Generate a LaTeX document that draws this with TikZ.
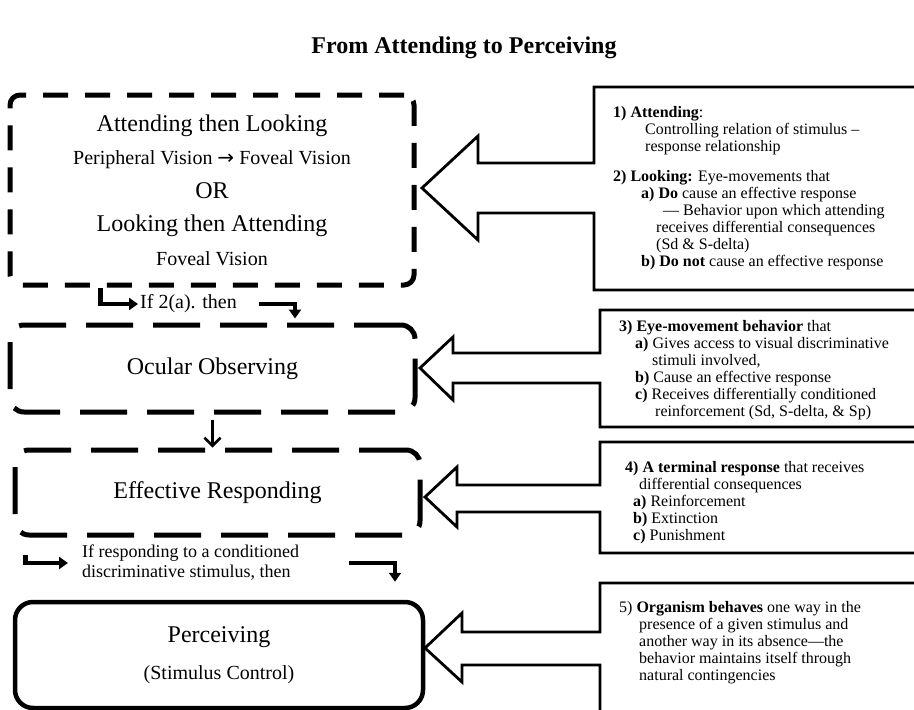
\documentclass[tikz,border=0pt]{standalone}
\usepackage{fontspec}
\setmainfont{Liberation Serif}
\newfontfamily\arrowfont{DejaVu Sans}
\usetikzlibrary{arrows.meta}
\newcommand{\bigline}{\fontsize{24}{33.5}\selectfont}
\newcommand{\smallline}{\fontsize{20}{33.5}\selectfont}
\newcommand{\notefont}{\fontsize{16}{17}\selectfont}

\begin{document}
\begin{tikzpicture}[x=1pt, y=-1pt, >={Triangle[length=9pt,width=12pt]}]
    \tikzstyle{dashbox}=[draw=black, line width=5pt, rounded corners=14pt,
      dash pattern=on 47pt off 20pt, align=center, font=\bigline]
    \tikzstyle{solidbox}=[draw=black, line width=4.5pt, rounded corners=18pt,
      align=center, font=\bigline]
    \tikzstyle{bent}=[->, line width=4.5pt]
    \tikzstyle{callout}=[draw=black, line width=2.8pt, fill=white]
    \tikzstyle{note}=[anchor=north west, align=left, font=\notefont, inner sep=0pt]
    \useasboundingbox (0,0) rectangle (914,710);
    \clip (0,0) rectangle (914,710);
    \fill[white] (0,0) rectangle (914,710);
    \draw (464,48) node[font=\bfseries\fontsize{24}{28}\selectfont] (title) {From Attending to Perceiving};
    \draw (212,190) node[dashbox, dash pattern=on 25pt off 17pt, rounded corners=10pt,
      minimum width=404pt, minimum height=190pt] (look)
      {Attending then Looking\\ {\smallline Peripheral Vision {\arrowfont →} Foveal Vision}\\ OR\\
       Looking then Attending\\ {\smallline Foveal Vision}};
    \draw (212.5,368.5) node[dashbox, minimum width=405pt, minimum height=87pt] (observe) {Ocular Observing};
    \draw (217.5,492.5) node[dashbox, minimum width=405pt, minimum height=85pt] (respond) {Effective Responding};
    \draw (219,655) node[solidbox, minimum width=408pt, minimum height=106pt] (perceive)
      {Perceiving\\[3pt] {\smallline (Stimulus Control)}};
    \draw (138,304) node[anchor=west, font=\smallline, inner sep=2pt] (ifA) {If 2(a). then};
    \draw (80,563) node[anchor=west, align=left, font=\fontsize{18}{20}\selectfont, inner sep=2pt] (ifB)
      {If responding to a conditioned\\ discriminative stimulus, then};
    \draw[bent] ([xshift=93pt]look.south west) |- (ifA.west);
    \draw[bent, shorten >=4pt] ([xshift=20pt]ifA.east) -| ([xshift=82.5pt]observe.north);
    \draw[-{Straight Barb[length=8pt,width=16pt]}, line width=2.5pt, shorten <=5pt]
      (observe.south) -- (observe.south |- respond.north);
    \draw[bent, shorten >=12pt] ([xshift=13pt,yshift=-17pt]respond.south west) |- (ifB.west);
    \draw[bent] ([xshift=48pt]ifB.east) -| ([xshift=176pt,yshift=18pt]perceive.north);
    \draw[callout] (925,87) -- (594,87) -- (594,163) -- (478,163) -- (478,136) -- (422,188)
      -- (478,240) -- (478,213) -- (594,213) -- (594,290) -- (925,290) -- cycle;
    \draw[callout] (925,310) -- (600,310) -- (600,353) -- (453,353) -- (453,337) -- (420,368)
      -- (453,400) -- (453,383) -- (600,383) -- (600,427) -- (925,427) -- cycle;
    \draw[callout] (925,442) -- (600,442) -- (600,485) -- (457,485) -- (457,467) -- (425,497)
      -- (457,527) -- (457,512) -- (600,512) -- (600,553) -- (925,553) -- cycle;
    \draw[callout] (925,583) -- (600,583) -- (600,632) -- (462,632) -- (462,613) -- (425,648)
      -- (462,682) -- (462,665) -- (600,665) -- (600,725) -- (925,725) -- cycle;
    \draw (613,106) node[note] (attend)
      {\textbf{1) Attending}:\\
       \hspace*{32pt}Controlling relation of stimulus --\\
       \hspace*{32pt}response relationship\\[13pt]
       \textbf{2) Looking:} Eye-movements that\\
       \hspace*{28pt}\textbf{a) Do} cause an effective response\\
       \hspace*{50pt}--- Behavior upon which attending\\
       \hspace*{43pt}receives differential consequences\\
       \hspace*{43pt}(Sd \& S-delta)\\
       \hspace*{28pt}\textbf{b) Do not} cause an effective response};
    \draw (619,320) node[note] (eyemove)
      {\textbf{3) Eye-movement behavior} that\\
       \hspace*{16pt}\textbf{a)} Gives access to visual discriminative\\
       \hspace*{33pt}stimuli involved,\\
       \hspace*{16pt}\textbf{b)} Cause an effective response\\
       \hspace*{16pt}\textbf{c)} Receives differentially conditioned\\
       \hspace*{36pt}reinforcement (Sd, S-delta, \& Sp)};
    \draw (625,461) node[note] (terminal)
      {\textbf{4) A terminal response} that receives\\
       \hspace*{14pt}differential consequences\\
       \hspace*{8pt}\textbf{a)} Reinforcement\\
       \hspace*{8pt}\textbf{b)} Extinction\\
       \hspace*{8pt}\textbf{c)} Punishment};
    \draw (619,601) node[note] (organism)
      {5) \textbf{Organism behaves} one way in the\\
       \hspace*{20pt}presence of a given stimulus and\\
       \hspace*{20pt}another way in its absence---the\\
       \hspace*{20pt}behavior maintains itself through\\
       \hspace*{20pt}natural contingencies};
\end{tikzpicture}
\end{document}
